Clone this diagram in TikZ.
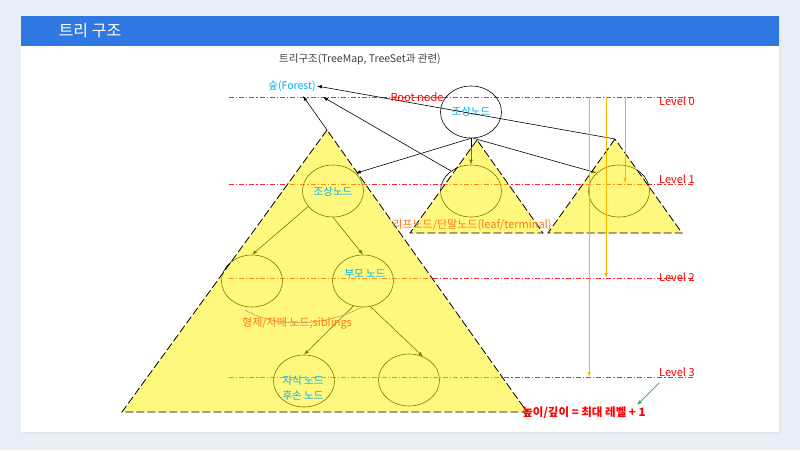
\documentclass[tikz,border=0pt]{standalone}
\usepackage{fontspec}
\setmainfont{Noto Sans CJK KR}
\usepackage{tikz}
\usetikzlibrary{arrows.meta,shapes.geometric}
\definecolor{trbg}{RGB}{232,238,248}
\definecolor{trhead}{RGB}{47,120,225}
\definecolor{trcyan}{RGB}{0,176,240}
\definecolor{trorange}{RGB}{255,120,20}
\definecolor{tramber}{RGB}{245,182,0}
\definecolor{trgreen}{RGB}{30,170,90}
\definecolor{trtan}{RGB}{195,165,115}
\definecolor{trgray}{RGB}{64,64,64}
\tikzset{
  trlevel/.style={red!85,line width=0.8pt,dash pattern=on 5pt off 2pt on 1.2pt off 2pt},
  trlvltext/.style={red,anchor=west,inner sep=0pt,font=\fontsize{11}{13}\selectfont},
  trnode/.style={ellipse,draw=black,line width=0.6pt,minimum width=61pt,
                 minimum height=52pt,inner sep=0pt},
  trlink/.style={-{Latex[length=5pt,width=3.5pt]},line width=0.6pt,black},
  trtri/.style={fill=yellow,fill opacity=0.5,draw=black,draw opacity=1,
                line width=0.8pt,dash pattern=on 8pt off 3pt},
  trname/.style={text=trcyan,inner sep=1pt,font=\fontsize{10.5}{12}\selectfont},
  trlabel/.style={text=trorange,inner sep=1pt,font=\fontsize{11}{13}\selectfont},
  trdepth/.style={-{Latex[length=5pt,width=3.5pt]},tramber,line width=0.7pt},
  trsib/.style={trtan,line width=0.7pt},
  trnote/.style={-{Latex[length=5pt,width=3.5pt]},trgreen,line width=0.7pt}
}
\begin{document}
\begin{tikzpicture}[x=1pt,y=-1pt]
  \useasboundingbox (0,0) rectangle (800,450);
  \fill[trbg] (0,0) rectangle (800,450);
  \fill[black!10] (23,18) rectangle (781,434);
  \fill[white] (21,16) rectangle (779,432);
  \fill[trhead] (21,16) rectangle (779,46);
  \node[white,font=\fontsize{16}{19}\selectfont] (title) at (90,31) {트리 구조};
  \node[trgray,font=\fontsize{10.5}{12}\selectfont] (sub) at (360,59)
    {트리구조(TreeMap, TreeSet과 관련)};

  % level lines
  \foreach \lv/\y/\ty in {0/97/101,1/184/179,2/278/277,3/377/372}{
    \coordinate (lvs\lv) at (229,\y);
    \coordinate (lve\lv) at (694,\y);
    \draw[trlevel] (lvs\lv) -- (lve\lv);
    \node[trlvltext] (lvl\lv) at (659,\ty) {Level \lv};
  }

  % nodes
  \node[trnode,trname,inner sep=0pt] (root) at (471,112) {조상노드};
  \node[trnode] (midl) at (471,191) {};
  \node[trnode] (rightl) at (619,191) {};
  \node[trnode] (anc) at (333,191) {};
  \node[trnode] (lc) at (252,281) {};
  \node[trnode] (par) at (363,281) {};
  \node[trnode] (chd) at (304,381) {};
  \node[trnode] (rc) at (409,380) {};

  \node[trname] (forest) at (292,86) {숲(Forest)};
  \coordinate (fa) at (303,96);
  \coordinate (fb) at (323,97);
  \coordinate (bigtop) at (327,130);
  \coordinate (midtop) at (477,140);
  \coordinate (rtop) at (615,139);

  % links
  \draw[trlink] (root.south) -- (anc.38);
  \draw[trlink] (root.south) -- (midl.north);
  \draw[trlink] (root.-85) -- (rightl.141);
  \draw[trlink] (bigtop) -- (fa);
  \draw[trlink] (midl.135) -- (fb);
  \draw[trlink] (rtop) -- (forest.east);
  \draw[trlink] (anc.212) -- (lc.north);
  \draw[trlink] (anc.south) -- (par.north);
  \draw[trlink] (par.249) -- (chd.north);
  \draw[trlink] (par.286) -- (rc.59);

  % subtrees
  \path[trtri] (bigtop) -- (122,412) -- (527,412) -- cycle;
  \path[trtri] (midtop) -- (410,233) -- (543,233) -- cycle;
  \path[trtri] (rtop) -- (548,233) -- (682,233) -- cycle;

  \draw[trsib] (245,310) .. controls (275,328) and (325,327) .. (362,307);

  % labels
  \node[trname] (ancT) at (333,192) {조상노드};
  \node[trname] (parT) at (365,274) {부모 노드};
  \node[trname,align=center,font=\fontsize{10.5}{15}\selectfont] (chdT) at (303,388)
    {자식 노드\\후손 노드};
  \node[trlabel] (sibT) at (297,323) {형제/자매 노드;siblings};
  \node[trlabel] (leafT) at (472,225) {리프노드/단말노드(leaf/terminal)};
  \node[red,inner sep=1pt,font=\fontsize{11}{13}\selectfont] (rootT) at (417,97) {Root node};
  \node[red,inner sep=1pt,font=\fontsize{11.5}{13}\selectfont\bfseries] (height) at (584,413)
    {높이/깊이 = 최대 레벨 + 1};

  % depth arrows
  \foreach \x/\lv/\y in {625/1/183,606/2/278,589/3/377}{
    \coordinate (dtop\lv) at (\x,97);
    \coordinate (dbot\lv) at (\x,\y);
    \draw[trdepth] (dtop\lv) -- (dbot\lv);
  }
  \coordinate (gs) at (659,383);
  \coordinate (ge) at (637,405);
  \draw[trnote] (gs) -- (ge);
\end{tikzpicture}
\end{document}
